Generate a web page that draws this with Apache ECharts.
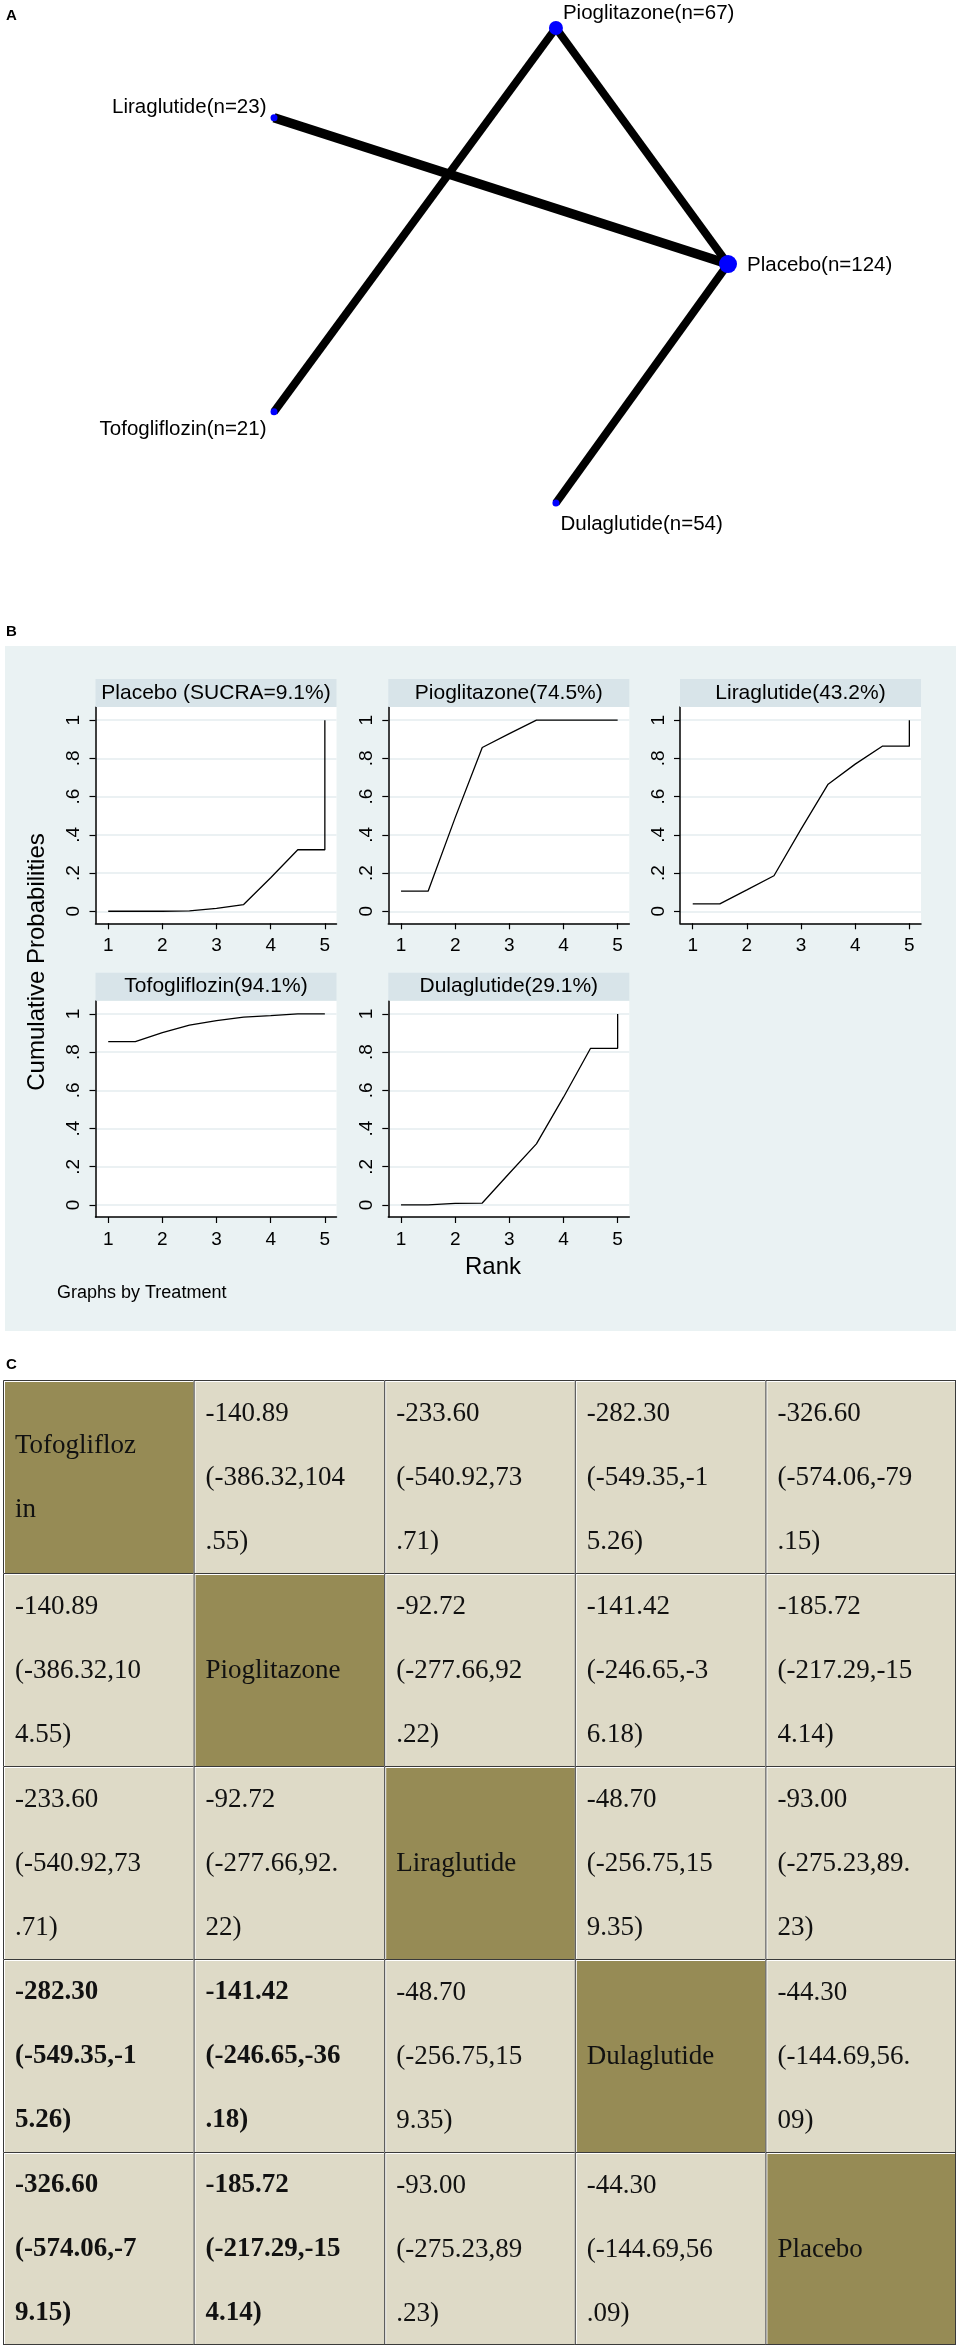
<!DOCTYPE html>
<html>
<head>
<meta charset="utf-8">
<script src="https://cdn.jsdelivr.net/npm/echarts@6/dist/echarts.min.js"></script>
<style>
html, body { margin: 0; padding: 0; background: #fff; }
#main { width: 959px; height: 2351px; }
</style>
</head>
<body>
<div id="main"></div>
<script>
// ---------- A: network ----------
var nodeNames = ['Pioglitazone', 'Placebo', 'Dulaglutide', 'Tofogliflozin', 'Liraglutide'];
var nodeN = [67, 124, 54, 21, 23];
var nodeX = [0.621, 1, 0.621, 0, 0];
var nodeY = [1, 0.503, 0, 0.192, 0.811];
var edgeFrom = ['Pioglitazone', 'Pioglitazone', 'Liraglutide', 'Placebo'];
var edgeTo = ['Tofogliflozin', 'Placebo', 'Placebo', 'Dulaglutide'];

// ---------- B: cumulative ranking ----------
var rankX = [1, 1.5, 2, 2.5, 3, 3.5, 4, 4.5, 5, 5];
var panelTitles = ['Placebo (SUCRA=9.1%)', 'Pioglitazone(74.5%)', 'Liraglutide(43.2%)', 'Tofogliflozin(94.1%)', 'Dulaglutide(29.1%)'];
var cumPlacebo = [0, 0, 0, 0.002, 0.015, 0.035, 0.175, 0.322, 0.322, 1];
var cumPioglitazone = [0.105, 0.105, 0.49, 0.857, 0.93, 1, 1, 1, 1, 1];
var cumLiraglutide = [0.039, 0.039, 0.112, 0.186, 0.43, 0.665, 0.77, 0.864, 0.864, 1];
var cumTofogliflozin = [0.855, 0.855, 0.902, 0.941, 0.965, 0.983, 0.991, 1, 1, 1];
var cumDulaglutide = [0, 0, 0.008, 0.01, 0.166, 0.32, 0.564, 0.82, 0.82, 1];
var yTicks = [0, 0.2, 0.4, 0.6, 0.8, 1];
var yTickLabels = ['0', '.2', '.4', '.6', '.8', '1'];
var xTicks = [1, 2, 3, 4, 5];

// ---------- C: league table ----------
var leagueNames = ['Tofogliflozin', 'Pioglitazone', 'Liraglutide', 'Dulaglutide', 'Placebo'];
var leagueEst = [
    [null, -140.89, -233.60, -282.30, -326.60],
    [-140.89, null, -92.72, -141.42, -185.72],
    [-233.60, -92.72, null, -48.70, -93.00],
    [-282.30, -141.42, -48.70, null, -44.30],
    [-326.60, -185.72, -93.00, -44.30, null]
];
var leagueLow = [
    [null, -386.32, -540.92, -549.35, -574.06],
    [-386.32, null, -277.66, -246.65, -217.29],
    [-540.92, -277.66, null, -256.75, -275.23],
    [-549.35, -246.65, -256.75, null, -144.69],
    [-574.06, -217.29, -275.23, -144.69, null]
];
var leagueHigh = [
    [null, 104.55, 73.71, -15.26, -79.15],
    [104.55, null, 92.22, -36.18, -154.14],
    [73.71, 92.22, null, 159.35, 89.23],
    [-15.26, -36.18, 159.35, null, 56.09],
    [-79.15, -154.14, 89.23, 56.09, null]
];
var boldCells = [[3, 0], [3, 1], [4, 0], [4, 1]];

// layout / style
var SANS = '"Liberation Sans", Arial, sans-serif';
var SERIF = '"Liberation Serif", "Times New Roman", serif';
var nodeSize = [14, 18, 7, 7, 7];
var nodeLabel = [
    {position: 'right', distance: 0, offset: [0, -15]},
    {position: 'right', distance: 10, offset: [0, 1]},
    {position: 'right', distance: 1, offset: [0, 21]},
    {position: 'left', distance: 4, offset: [0, 18]},
    {position: 'left', distance: 4, offset: [0, -10]}
];
var edgeWidth = [8, 8, 9.5, 8];
var panelLeft = [95.5, 388.3, 680, 95.5, 388.3];
var panelTop = [707, 707, 707, 1000.7, 1000.7];
var panelW = 241, panelH = 216.3, stripH = 28;
var wrapChars = [11, 12, 11, 11, 12];

var chart = echarts.init(document.getElementById('main'), null, {renderer: 'canvas'});

var grids = [], xAxes = [], yAxes = [], series = [], graphics = [];

// network grid
grids.push({left: 274, top: 28, width: 454, height: 475, outerBoundsMode: 'none'});
xAxes.push({type: 'value', gridIndex: 0, min: 0, max: 1, show: false});
yAxes.push({type: 'value', gridIndex: 0, min: 0, max: 1, show: false});
series.push({
    type: 'graph',
    coordinateSystem: 'cartesian2d',
    xAxisIndex: 0, yAxisIndex: 0,
    silent: true,
    data: nodeNames.map(function (n, i) {
        return {
            name: n,
            value: [nodeX[i], nodeY[i]],
            symbol: 'circle',
            symbolSize: nodeSize[i],
            itemStyle: {color: '#0000ff'},
            label: {
                show: true,
                position: nodeLabel[i].position,
                distance: nodeLabel[i].distance,
                offset: nodeLabel[i].offset,
                formatter: n + '(n=' + nodeN[i] + ')',
                fontFamily: SANS, fontSize: 20.5, color: '#000'
            }
        };
    }),
    links: edgeFrom.map(function (s, i) {
        return {source: s, target: edgeTo[i], lineStyle: {width: edgeWidth[i], color: '#000', opacity: 1, curveness: 0}};
    }),
    z: 3
});

// ranking panels
var cumAll = [cumPlacebo, cumPioglitazone, cumLiraglutide, cumTofogliflozin, cumDulaglutide];
graphics.push({type: 'rect', shape: {x: 5, y: 646, width: 951, height: 685}, style: {fill: '#EAF2F3'}, z: -10});
cumAll.forEach(function (vals, i) {
    var gi = i + 1;
    grids.push({left: panelLeft[i], top: panelTop[i], width: panelW, height: panelH,
        show: true, backgroundColor: '#fff', borderWidth: 0, outerBoundsMode: 'none'});
    xAxes.push({
        type: 'value', gridIndex: gi, min: 0.765, max: 5.215,
        axisLine: {show: true, onZero: false, lineStyle: {color: '#000', width: 1.5}},
        axisTick: {show: true, customValues: xTicks, length: 6, lineStyle: {color: '#000', width: 1.2}},
        axisLabel: {show: true, customValues: xTicks, margin: 13, fontSize: 19, fontFamily: SANS, color: '#000'},
        splitLine: {show: false}
    });
    yAxes.push({
        type: 'value', gridIndex: gi, min: -0.063, max: 1.069,
        axisLine: {show: true, onZero: false, lineStyle: {color: '#000', width: 1.5}},
        axisTick: {show: true, customValues: yTicks, length: 6, lineStyle: {color: '#000', width: 1.2}},
        axisLabel: {
            show: true, customValues: yTicks, rotate: 90, margin: 12,
            fontSize: 19, fontFamily: SANS, color: '#000',
            formatter: function (v) {
                var k = yTicks.indexOf(v);
                return k >= 0 ? yTickLabels[k] : '';
            }
        },
        splitLine: {show: true, lineStyle: {color: '#E4EDEF', width: 1.5}}
    });
    series.push({
        type: 'line', xAxisIndex: gi, yAxisIndex: gi,
        data: rankX.map(function (x, j) { return [x, vals[j]]; }),
        showSymbol: false, symbol: 'none', silent: true,
        lineStyle: {color: '#000', width: 1.3}
    });
    graphics.push({type: 'rect', shape: {x: panelLeft[i], y: panelTop[i] - stripH, width: panelW, height: stripH},
        style: {fill: '#D8E4E9'}, z: 5});
    graphics.push({type: 'text', x: panelLeft[i] + panelW / 2, y: panelTop[i] - stripH / 2,
        style: {text: panelTitles[i], fontFamily: SANS, fontSize: 21, fill: '#000', align: 'center', verticalAlign: 'middle'}, z: 6});
});

graphics.push({type: 'text', x: 37, y: 962, rotation: Math.PI / 2,
    style: {text: 'Cumulative Probabilities', fontFamily: SANS, fontSize: 24, fill: '#000', align: 'center', verticalAlign: 'middle'}, z: 6});
graphics.push({type: 'text', x: 493, y: 1267,
    style: {text: 'Rank', fontFamily: SANS, fontSize: 24, fill: '#000', align: 'center', verticalAlign: 'middle'}, z: 6});
graphics.push({type: 'text', x: 57, y: 1293,
    style: {text: 'Graphs by Treatment', fontFamily: SANS, fontSize: 18, fill: '#000', align: 'left', verticalAlign: 'middle'}, z: 6});

// panel letters
[['A', 16], ['B', 632], ['C', 1365]].forEach(function (p) {
    graphics.push({type: 'text', x: 6, y: p[1],
        style: {text: p[0], fontFamily: SANS, fontSize: 15, fontWeight: 'bold', fill: '#000', align: 'left', verticalAlign: 'middle'}, z: 6});
});

// league table
var tGi = grids.length;
grids.push({left: 3, top: 1380, width: 953, height: 965, outerBoundsMode: 'none'});
xAxes.push({type: 'category', gridIndex: tGi, data: leagueNames, show: false});
yAxes.push({type: 'category', gridIndex: tGi, data: leagueNames, show: false, inverse: true});

function isBold(r, c) {
    return boldCells.some(function (b) { return b[0] === r && b[1] === c; });
}
function chunk(s, n) {
    var out = [];
    for (var k = 0; k < s.length; k += n) out.push(s.slice(k, k + n));
    return out;
}
var cellData = [];
for (var r = 0; r < 5; r++) {
    for (var c = 0; c < 5; c++) cellData.push([c, r]);
}
series.push({
    type: 'custom', xAxisIndex: tGi, yAxisIndex: tGi, silent: true,
    data: cellData,
    renderItem: function (params, api) {
        var c = api.value(0), r = api.value(1);
        var pt = api.coord([c, r]);
        var sz = api.size([1, 1]);
        var x0 = pt[0] - sz[0] / 2, y0 = pt[1] - sz[1] / 2;
        var lines;
        if (r === c) {
            lines = chunk(leagueNames[r], wrapChars[c]);
        } else {
            var ci = '(' + leagueLow[r][c].toFixed(2) + ',' + leagueHigh[r][c].toFixed(2) + ')';
            lines = [leagueEst[r][c].toFixed(2)].concat(chunk(ci, wrapChars[c]));
        }
        var kids = [
            {type: 'rect', shape: {x: x0 + 2, y: y0 + 2, width: sz[0] - 2, height: sz[1] - 2},
                style: {fill: r === c ? '#968B55' : '#DEDAC7'}},
            {type: 'polyline', shape: {points: [[x0 + 0.5, y0 + sz[1]], [x0 + 0.5, y0 + 0.5], [x0 + sz[0], y0 + 0.5]]},
                style: {stroke: '#3a3a3a', lineWidth: 1, fill: null}},
            {type: 'text', style: {
                text: lines.join('\n'), x: x0 + 12, y: pt[1] + 1,
                fontFamily: SERIF, fontSize: 27, lineHeight: 64,
                fontWeight: isBold(r, c) ? 'bold' : 'normal',
                fill: '#111', align: 'left', verticalAlign: 'middle'
            }}
        ];
        if (c === 4) kids.push({type: 'line', shape: {x1: x0 + sz[0] - 0.5, y1: y0, x2: x0 + sz[0] - 0.5, y2: y0 + sz[1]}, style: {stroke: '#3a3a3a', lineWidth: 1}});
        if (r === 4) kids.push({type: 'line', shape: {x1: x0, y1: y0 + sz[1] - 0.5, x2: x0 + sz[0], y2: y0 + sz[1] - 0.5}, style: {stroke: '#3a3a3a', lineWidth: 1}});
        return {type: 'group', children: kids};
    }
});

chart.setOption({
    animation: false,
    backgroundColor: '#fff',
    grid: grids,
    xAxis: xAxes,
    yAxis: yAxes,
    series: series,
    graphic: {elements: graphics}
});
</script>
</body>
</html>
